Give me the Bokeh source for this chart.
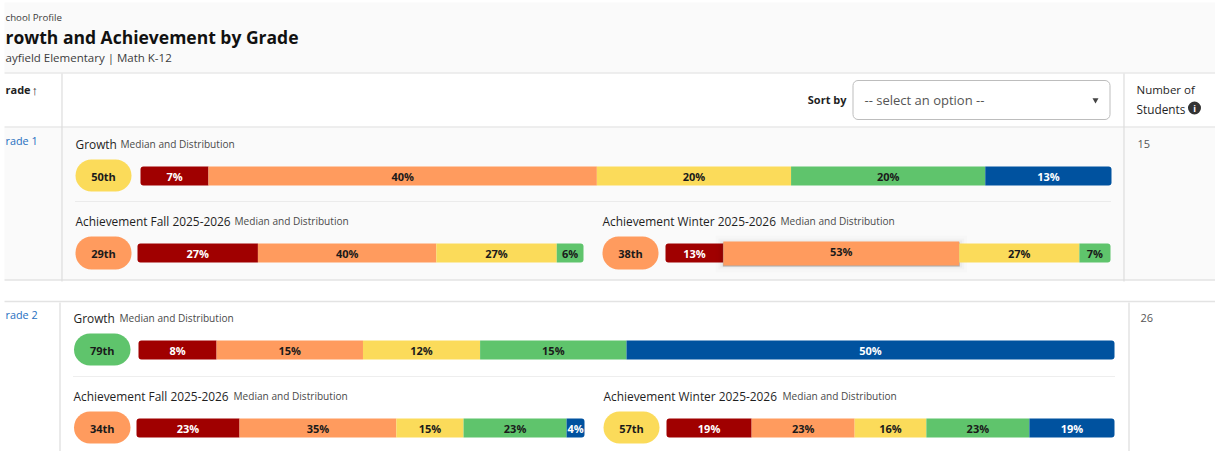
from bokeh.plotting import figure
from bokeh.embed import file_html
from bokeh.resources import INLINE
from bokeh.models import Range1d
from bokeh.core.properties import value

# ---- data ----
band_colors = ["#A00000", "#FF9B5E", "#FBDB5A", "#5FC46C", "#00529F"]
label_colors = ["#FFFFFF", "#1A1A1A", "#1A1A1A", "#1A1A1A", "#FFFFFF"]

grade_names = ["rade 1", "rade 2"]
student_counts = ["15", "26"]

g1_growth = [7, 40, 20, 20, 13]
g1_fall = [27, 40, 27, 6, 0]
g1_winter = [13, 53, 27, 7, 0]
g2_growth = [8, 15, 12, 15, 50]
g2_fall = [23, 35, 15, 23, 4]
g2_winter = [19, 23, 16, 23, 19]

g1_medians = ["50th", "29th", "38th"]
g2_medians = ["79th", "34th", "57th"]
g1_median_bands = [2, 1, 1]
g2_median_bands = [3, 1, 2]

FONT = value("Open Sans")

p = figure(width=1215, height=451, output_backend="svg", toolbar_location=None,
           x_range=Range1d(1, 1216), y_range=Range1d(452, 1), min_border=0,
           outline_line_color=None, background_fill_color="#FFFFFF", border_fill_color="#FFFFFF")
p.xaxis.visible = False
p.yaxis.visible = False
p.grid.visible = False


def label(x, y, s, size=11, color="#1F1F1F", bold=False, align="left"):
    p.text([x], [y], text=[s], text_font=FONT, text_font_size=f"{size}px",
           text_color=color, text_align=align, text_baseline="middle",
           text_font_style="bold" if bold else "normal")


def hline(x0, x1, y, color="#DDDDDD", width=1.0, dash="solid"):
    p.line([x0, x1], [y, y], line_color=color, line_width=width, line_dash=dash)


def vline(x, y0, y1, color="#DDDDDD", width=1.0):
    p.line([x, x], [y0, y1], line_color=color, line_width=width)


def stacked(x0, x1, top, bottom, vals, raised=None):
    """Stacked 100% bar drawn from the values, scaled into [x0, x1]."""
    total = sum(vals)
    scale = (x1 - x0) / total
    shown = [i for i, v in enumerate(vals) if v > 0]
    pos = x0
    for i in shown:
        end = pos + vals[i] * scale
        r = (3 if i == shown[0] else 0, 3 if i == shown[-1] else 0,
             3 if i == shown[-1] else 0, 3 if i == shown[0] else 0)
        if i == raised:
            for grow, alpha in [(8, .012), (5, .02), (3, .03)]:
                p.quad(left=[pos - grow], right=[end + grow], top=[top - grow], bottom=[bottom + 2 + grow],
                       fill_color="#000000", fill_alpha=alpha, line_color=None)
            p.quad(left=[pos - .5], right=[end + .5], top=[top - 1], bottom=[bottom + 4],
                   fill_color="#777777", fill_alpha=.55, line_color=None)
            p.quad(left=[pos], right=[end], top=[top - 2], bottom=[bottom + 3],
                   fill_color=band_colors[i], line_color=None)
            ty = (top + bottom) / 2 - 1.5
        else:
            p.quad(left=[pos], right=[end], top=[top], bottom=[bottom],
                   fill_color=band_colors[i], line_color=None, border_radius=r)
            ty = (top + bottom) / 2 + .5
        label((pos + end) / 2, ty, f"{vals[i]}%", size=11, color=label_colors[i], bold=True, align="center")
        pos = end


def pill(x0, x1, top, bottom, s, band):
    p.quad(left=[x0], right=[x1], top=[top], bottom=[bottom], fill_color=band_colors[band],
           line_color=None, border_radius=16)
    label((x0 + x1) / 2, (top + bottom) / 2 + .5, s, size=11, color="#1A1A1A", bold=True, align="center")


def heading(x, y, title, gap):
    label(x, y, title, size=11.9, color="#1F1F1F")
    label(x + gap, y + .5, "Median and Distribution", size=10.1, color="#4A4A4A")


# panels
p.quad(left=[5], right=[1216], top=[3], bottom=[73], fill_color="#FAFAFA", line_color=None)
p.quad(left=[5], right=[1216], top=[128], bottom=[280], fill_color="#FAFAFA", line_color=None)
hline(5, 1216, 73.5, width=1.2)
hline(5, 1216, 127.5, width=1.2)
hline(5, 1216, 280.5, width=1.5, color="#E3E3E3")
hline(5, 1216, 302, width=1.5, color="#E3E3E3")
vline(62.5, 74, 282, width=1.2)
vline(1124.5, 74, 282, width=1.2)
vline(60.5, 303, 452, width=1.5, color="#E3E3E3")
vline(1129.5, 303, 452, width=1.5, color="#E3E3E3")

# header texts (the reference cuts their first letter at its left edge)
label(6, 17.5, "chool Profile", size=9.7, color="#3C3C3C")
label(6, 37, "rowth and Achievement by Grade", size=17.5, color="#111111", bold=True)
label(6, 57.5, "ayfield Elementary | Math K-12", size=11.5, color="#3C3C3C")
label(6, 90, "rade", size=11, color="#1F1F1F", bold=True)
label(32, 90, "↑", size=13, color="#1F1F1F", bold=True)
label(6, 141, grade_names[0], size=10.8, color="#1F6FBF")
label(6, 315, grade_names[1], size=10.8, color="#1F6FBF")

# sort control
label(847, 100, "Sort by", size=11, color="#1F1F1F", bold=True, align="right")
p.quad(left=[853.5], right=[1110.5], top=[81], bottom=[120], fill_color="#FFFFFF",
       line_color="#BDBDBD", line_width=1, border_radius=5)
label(865, 100, "-- select an option --", size=13, color="#555555")
p.scatter([1096], [100.5], marker="inverted_triangle", size=6, fill_color="#444444", line_color=None)
label(1137, 90, "Number of", size=11.5, color="#1F1F1F")
label(1137, 109, "Students", size=11.8, color="#1F1F1F")
p.scatter([1195], [108.5], marker="circle", size=13, fill_color="#333333", line_color=None)
label(1195, 108.5, "i", size=9, color="#FFFFFF", bold=True, align="center")

# counts
label(1138, 144.5, student_counts[0], size=11, color="#555555")
label(1141, 318, student_counts[1], size=11, color="#555555")

# grade 1
heading(76, 144, "Growth", 45)
pill(76, 132, 160, 192, g1_medians[0], g1_median_bands[0])
stacked(141, 1112, 167, 186, g1_growth)
hline(76, 1112, 202, color="#DCDCDC", width=1, dash="1 1")
heading(76, 221, "Achievement Fall 2025-2026", 159)
pill(76, 132, 237, 270, g1_medians[1], g1_median_bands[1])
stacked(138, 584, 244, 263, g1_fall)
heading(603, 221, "Achievement Winter 2025-2026", 178)
pill(603, 659, 237, 270, g1_medians[2], g1_median_bands[2])
stacked(666, 1111, 244, 263, g1_winter, raised=1)

# grade 2
heading(74, 318, "Growth", 46)
pill(74.5, 131, 334, 366, g2_medians[0], g2_median_bands[0])
stacked(139, 1115, 341, 360, g2_growth)
hline(74, 1115, 377, color="#DCDCDC", width=1, dash="1 1")
heading(74, 396, "Achievement Fall 2025-2026", 160)
pill(74.5, 131, 412, 444, g2_medians[1], g2_median_bands[1])
stacked(137, 585, 419, 438, g2_fall)
heading(604, 396, "Achievement Winter 2025-2026", 179)
pill(604, 660, 412, 444, g2_medians[2], g2_median_bands[2])
stacked(667, 1115, 419, 438, g2_winter)

open("out.html", "w").write(file_html(p, INLINE))
